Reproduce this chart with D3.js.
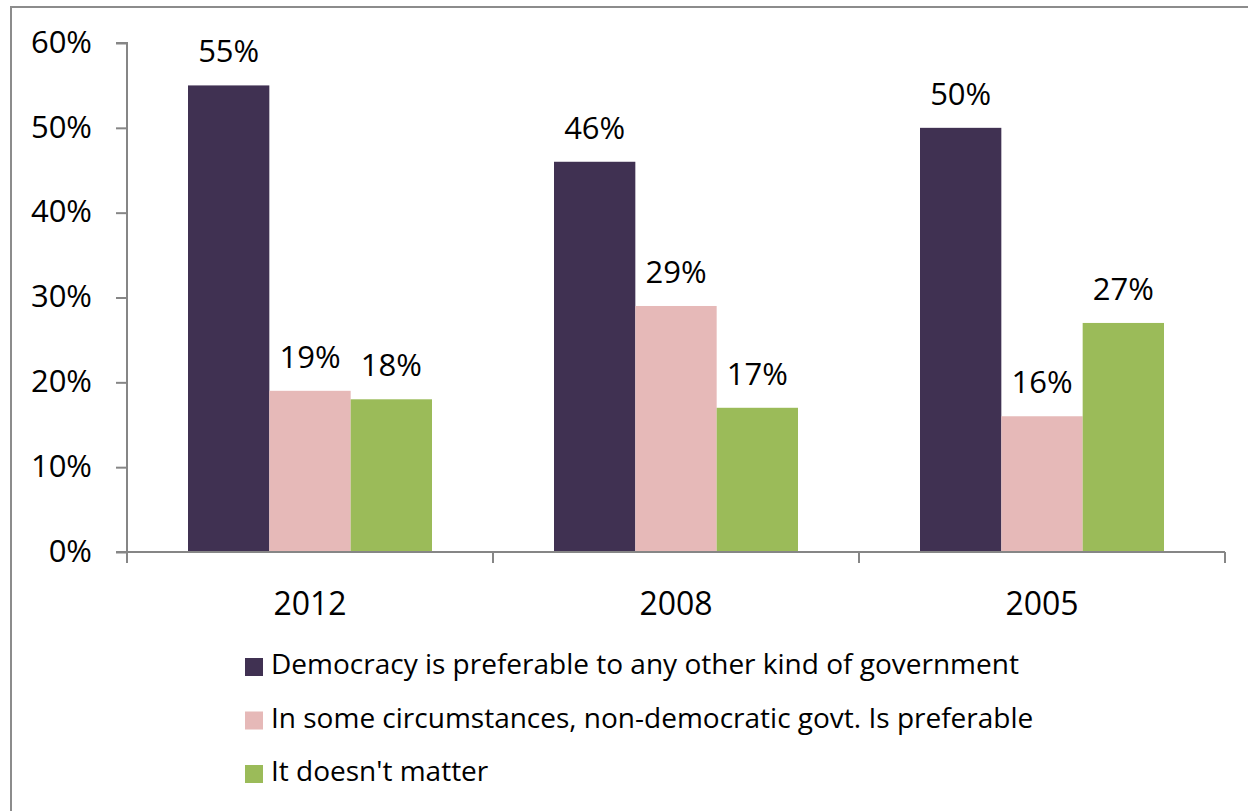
<!DOCTYPE html>
<html>
<head>
<meta charset="utf-8">
<script src="https://cdn.jsdelivr.net/npm/d3@7"></script>
<style>
  body { margin: 0; background: #fff; }
  svg text { font-family: "Open Sans", sans-serif; fill: #000; }
</style>
</head>
<body>
<div id="chart"></div>
<script>
// chart data
const years = ["2012", "2008", "2005"];
const seriesNames = [
  "Democracy is preferable to any other kind of government",
  "In some circumstances, non-democratic govt. Is preferable",
  "It doesn't matter"
];
const seriesColors = ["#403152", "#e6b9b8", "#9bbb59"];
const democracy = [55, 46, 50];
const nonDemocratic = [19, 29, 16];
const noMatter = [18, 17, 27];
const yTicks = [0, 10, 20, 30, 40, 50, 60];

const allSeries = [democracy, nonDemocratic, noMatter];

const W = 1248, H = 811;
const svg = d3.select("#chart").append("svg")
  .attr("width", W).attr("height", H);

// outer frame (cut off at right and bottom)
svg.append("path")
  .attr("d", `M11,${H + 5} V7 H${W + 5}`)
  .attr("fill", "none")
  .attr("stroke", "#8c8c8c")
  .attr("stroke-width", 2);

const plot = { left: 127, right: 1225, top: 43, bottom: 552 };

const y = d3.scaleLinear().domain([0, 60]).range([plot.bottom, plot.top]);
const x0 = d3.scaleBand().domain(years).range([plot.left, plot.right]);
// gap width ~150% like the original
const x1 = d3.scaleBand().domain(d3.range(seriesNames.length))
  .range([0, x0.bandwidth()])
  .paddingInner(0).paddingOuter(0.75);

// y axis
const yAxis = svg.append("g")
  .attr("transform", `translate(${plot.left},0)`)
  .call(d3.axisLeft(y).tickValues(yTicks).tickSize(11).tickPadding(24)
    .tickFormat(d => d + "%"));
yAxis.selectAll("line, path").attr("stroke", "#868686").attr("stroke-width", 2);
yAxis.select(".domain").attr("d", `M0,${plot.bottom}V${plot.top}H-11`);
yAxis.selectAll("text").style("font-size", "31px").attr("dy", "0.3em");

// bars
const groups = svg.append("g").selectAll("g")
  .data(years)
  .join("g")
  .attr("transform", d => `translate(${x0(d)},0)`);

groups.selectAll("rect")
  .data((d, i) => allSeries.map((s, k) => ({ k, v: s[i] })))
  .join("rect")
  .attr("x", d => x1(d.k))
  .attr("width", x1.bandwidth())
  .attr("y", d => y(d.v))
  .attr("height", d => plot.bottom - y(d.v))
  .attr("fill", d => seriesColors[d.k]);

groups.selectAll("text")
  .data((d, i) => allSeries.map((s, k) => ({ k, v: s[i] })))
  .join("text")
  .attr("x", d => x1(d.k) + x1.bandwidth() / 2)
  .attr("y", d => y(d.v) - 23)
  .attr("text-anchor", "middle")
  .style("font-size", "31px")
  .text(d => d.v + "%");

// x axis
const xAxis = svg.append("g")
  .attr("transform", `translate(0,${plot.bottom})`);
xAxis.append("line")
  .attr("x1", plot.left - 11).attr("x2", plot.right)
  .attr("stroke", "#868686").attr("stroke-width", 2);
const bounds = years.map(d => x0(d)).concat([plot.right]);
xAxis.selectAll("line.tick")
  .data(bounds)
  .join("line")
  .attr("class", "tick")
  .attr("x1", d => d).attr("x2", d => d)
  .attr("y1", 0).attr("y2", 11)
  .attr("stroke", "#868686").attr("stroke-width", 2);
xAxis.selectAll("text")
  .data(years)
  .join("text")
  .attr("x", d => x0(d) + x0.bandwidth() / 2)
  .attr("y", 63)
  .attr("text-anchor", "middle")
  .style("font-size", "32px")
  .text(d => d);

// legend
const legend = svg.append("g").selectAll("g")
  .data(seriesNames)
  .join("g")
  .attr("transform", (d, i) => `translate(245,${667 + i * 53.5})`);
legend.append("rect")
  .attr("x", 0).attr("y", -9)
  .attr("width", 18).attr("height", 18)
  .attr("fill", (d, i) => seriesColors[i]);
legend.append("text")
  .attr("x", 26).attr("y", 0).attr("dy", "0.26em")
  .style("font-size", "28px")
  .text(d => d);
</script>
</body>
</html>
